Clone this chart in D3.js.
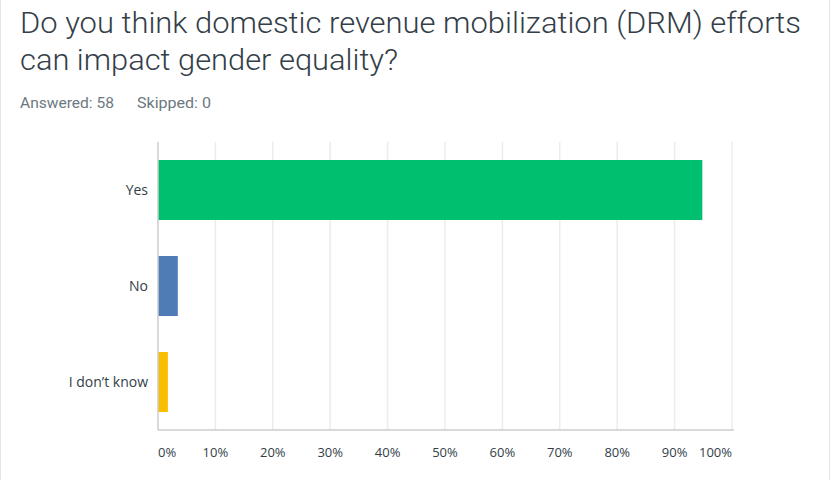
<!DOCTYPE html>
<html>
<head>
<meta charset="utf-8">
<script src="https://cdn.jsdelivr.net/npm/d3@7"></script>
<style>
  body { margin: 0; background: #fff; }
  svg { display: block; }
</style>
</head>
<body>
<div id="chart"></div>
<script>
var titleLines = ["Do you think domestic revenue mobilization (DRM) efforts", "can impact gender equality?"],
    answered = 58,
    skipped = 0,
    categories = ["Yes", "No", "I don\u2019t know"],
    percents = [94.83, 3.45, 1.72],
    barColors = ["#00bf6f", "#507cb6", "#f9be00"],
    ticks = [0, 10, 20, 30, 40, 50, 60, 70, 80, 90, 100];

var W = 830, H = 480;
var margin = { top: 142, left: 158, right: 98, bottom: 50 }; // plot box 158..732, 142..430

var svg = d3.select("#chart").append("svg")
    .attr("width", W)
    .attr("height", H);

// card border
svg.append("rect")
    .attr("x", 0.5).attr("y", -2)
    .attr("width", W - 1).attr("height", H + 4)
    .attr("fill", "none").attr("stroke", "#e4e4e4");

// title
svg.selectAll(".title").data(titleLines)
  .enter().append("text")
    .attr("class", "title")
    .attr("x", 20)
    .attr("y", function(d, i) { return 33 + i * 37; })
    .attr("fill", "#333e48")
    .style("font-family", "Roboto, 'Liberation Sans', sans-serif")
    .style("font-weight", 300)
    .style("font-size", "29px")
    .attr("textLength", function(d, i) { return i == 0 ? 781 : 378; })
    .attr("lengthAdjust", "spacingAndGlyphs")
    .text(function(d) { return d; });

// answered / skipped
var meta = svg.append("g")
    .style("font-family", "Roboto, 'Liberation Sans', sans-serif")
    .style("font-size", "14px")
    .attr("fill", "#6b787f");
meta.append("text").attr("x", 20).attr("y", 108)
    .attr("textLength", 94).attr("lengthAdjust", "spacingAndGlyphs")
    .text("Answered: " + answered);
meta.append("text").attr("x", 137).attr("y", 108)
    .attr("textLength", 74).attr("lengthAdjust", "spacingAndGlyphs")
    .text("Skipped: " + skipped);

var x = d3.scaleLinear().domain([0, 100]).range([margin.left, W - margin.right]);
var y = d3.scaleBand().domain(categories).range([margin.top, H - margin.bottom]).paddingInner(0.375).paddingOuter(0.1875);

// gridlines
svg.selectAll(".grid").data(ticks.slice(1))
  .enter().append("line")
    .attr("x1", function(d) { return x(d); })
    .attr("x2", function(d) { return x(d); })
    .attr("y1", margin.top)
    .attr("y2", H - margin.bottom)
    .attr("stroke", "#ececec")
    .attr("stroke-width", 1.5);

// bars
svg.selectAll(".bar").data(percents)
  .enter().append("rect")
    .attr("x", x(0))
    .attr("y", function(d, i) { return y(categories[i]); })
    .attr("width", function(d) { return x(d) - x(0); })
    .attr("height", y.bandwidth())
    .attr("fill", function(d, i) { return barColors[i]; });

// axes lines
svg.append("line")
    .attr("x1", x(0)).attr("x2", x(0))
    .attr("y1", margin.top).attr("y2", H - margin.bottom)
    .attr("stroke", "#cccccc").attr("stroke-width", 1.5);
svg.append("line")
    .attr("x1", x(0)).attr("x2", x(100) + 2)
    .attr("y1", H - margin.bottom).attr("y2", H - margin.bottom)
    .attr("stroke", "#cccccc").attr("stroke-width", 1.5);

// category labels
svg.selectAll(".cat").data(categories)
  .enter().append("text")
    .attr("x", 148)
    .attr("y", function(d) { return y(d) + y.bandwidth() / 2 + 5; })
    .attr("text-anchor", "end")
    .attr("fill", "#333e48")
    .style("font-family", "'Open Sans', 'Noto Sans', sans-serif")
    .style("font-size", "14px")
    .text(function(d) { return d; });

// tick labels
svg.selectAll(".tick").data(ticks)
  .enter().append("text")
    .attr("x", function(d) { return x(d); })
    .attr("y", 457)
    .attr("text-anchor", function(d, i) { return i == 0 ? "start" : (i == ticks.length - 1 ? "end" : "middle"); })
    .attr("fill", "#333e48")
    .style("font-family", "'Open Sans', 'Noto Sans', sans-serif")
    .style("font-size", "13px")
    .text(function(d) { return d + "%"; });
</script>
</body>
</html>
